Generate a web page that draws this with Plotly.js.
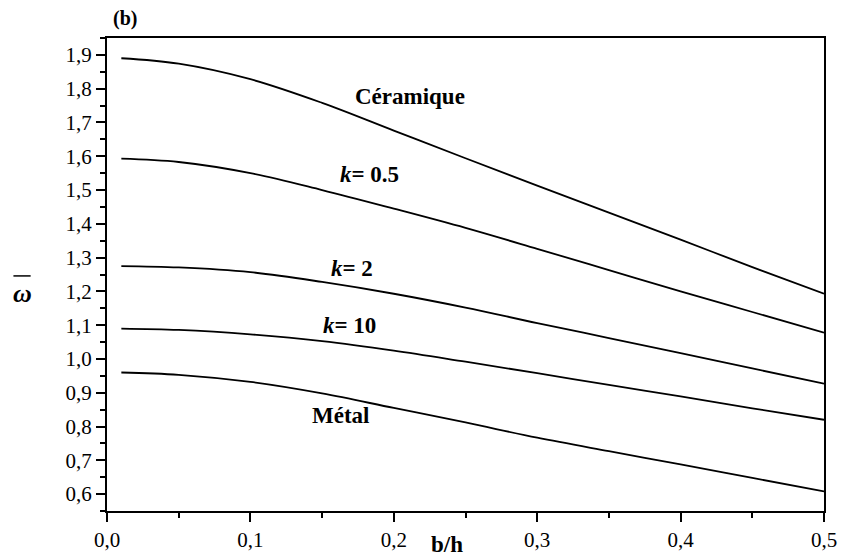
<!DOCTYPE html>
<html>
<head>
<meta charset="utf-8">
<script src="https://cdn.plot.ly/plotly-3.0.1.min.js"></script>
<style>html,body{margin:0;padding:0;background:#fff;}#chart{width:842px;height:559px;}</style>
</head>
<body>
<div id="chart"></div>
<script>
// b/h ratio
const bh = [0.01, 0.05, 0.10, 0.15, 0.20, 0.25, 0.30, 0.35, 0.40, 0.45, 0.50];
// dimensionless frequency omega-bar
const ceramique = [1.890, 1.874, 1.828, 1.758, 1.676, 1.594, 1.513, 1.433, 1.353, 1.272, 1.193];
const k05      = [1.593, 1.583, 1.550, 1.500, 1.445, 1.388, 1.326, 1.263, 1.200, 1.139, 1.078];
const k2       = [1.275, 1.271, 1.257, 1.228, 1.193, 1.152, 1.106, 1.062, 1.017, 0.972, 0.927];
const k10      = [1.090, 1.086, 1.073, 1.053, 1.025, 0.992, 0.958, 0.923, 0.889, 0.854, 0.820];
const metal    = [0.960, 0.953, 0.932, 0.898, 0.855, 0.812, 0.767, 0.727, 0.688, 0.648, 0.608];

const seriesList = [ceramique, k05, k2, k10, metal];
const traces = seriesList.map(v => ({
  x: bh, y: v, type: 'scatter', mode: 'lines',
  line: {color: '#000', width: 1.8, shape: 'spline', smoothing: 1},
  showlegend: false, hoverinfo: 'skip'
}));

const serif = 'Liberation Serif';
const axisCommon = {
  showgrid: false, zeroline: false,
  showline: true, linecolor: '#000', linewidth: 2, mirror: true,
  ticks: 'outside', ticklen: 9, tickwidth: 2, tickcolor: '#000',
  tickfont: {family: serif, size: 21, color: '#000'},
  tickformat: '.1f'
};

function lab(text, x, y, size, opts) {
  return Object.assign({text: text, x: x, y: y, xanchor: 'center', yanchor: 'middle', showarrow: false,
          font: {family: serif, size: size || 23, color: '#000'}}, opts || {});
}
const P = {xref: 'paper', yref: 'paper'};

const layout = {
  width: 842, height: 559,
  margin: {l: 107, r: 18, t: 38, b: 48},
  paper_bgcolor: '#fff', plot_bgcolor: '#fff',
  font: {family: serif, color: '#000'},
  separators: ', ',
  xaxis: Object.assign({}, axisCommon, {
    range: [0, 0.5], dtick: 0.1, tick0: 0,
    minor: {dtick: 0.05, ticks: 'outside', ticklen: 5, tickwidth: 2, tickcolor: '#000'}
  }),
  yaxis: Object.assign({}, axisCommon, {
    range: [0.55, 1.95], dtick: 0.1, tick0: 0.6,
    minor: {dtick: 0.05, ticks: 'outside', ticklen: 5, tickwidth: 2, tickcolor: '#000'}
  }),
  shapes: [
    {type: 'line', xref: 'paper', yref: 'paper', x0: -0.1305, x1: -0.1065, y0: 0.497, y1: 0.497,
     line: {color: '#000', width: 1.5}}
  ],
  annotations: [
    lab('<b>(b)</b>', 0.025, 1.042, 20, P),
    lab('<b><i>ω</i></b>', -0.1185, 0.459, 26, P),
    lab('<b>b/h</b>', 0.474, -0.07, 23, P),
    lab('<b>Céramique</b>', 0.211, 1.776),
    lab('<b><i>k</i>= 0.5</b>', 0.183, 1.545),
    lab('<b><i>k</i>= 2</b>', 0.171, 1.267),
    lab('<b><i>k</i>= 10</b>', 0.169, 1.098),
    lab('<b>Métal</b>', 0.163, 0.832)
  ]
};

Plotly.newPlot('chart', traces, layout, {staticPlot: true, displayModeBar: false});
</script>
</body>
</html>
